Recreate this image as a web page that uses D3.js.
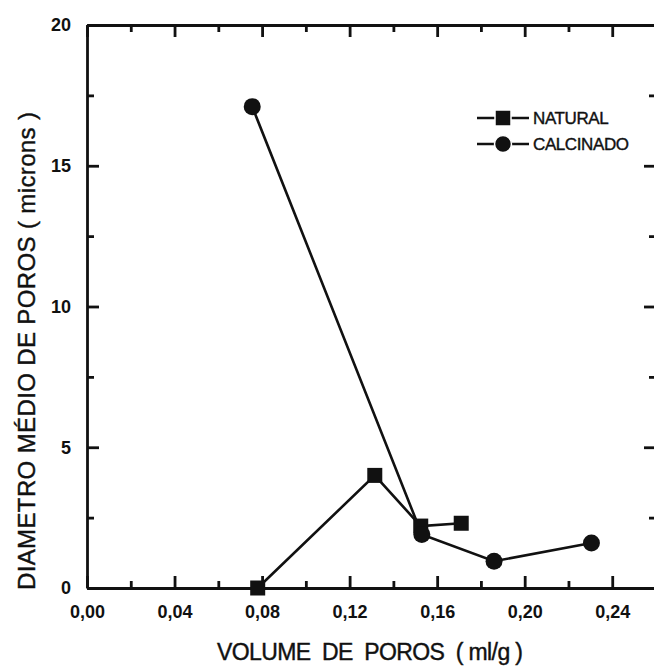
<!DOCTYPE html>
<html>
<head>
<meta charset="utf-8">
<script src="https://cdn.jsdelivr.net/npm/d3@7"></script>
<style>
  body { margin: 0; background: #fff; }
  svg { display: block; font-family: "Liberation Sans", Arial, sans-serif; }
  .c-axis path, .c-axis line { stroke: #111; stroke-width: 2.8; }
  .c-axis text { fill: #111; font-size: 18px; font-weight: bold; }
  .c-line { fill: none; stroke: #111; stroke-width: 2.6; }
  .c-title { fill: #111; stroke: #111; stroke-width: 0.4; }
</style>
</head>
<body>
<div id="chart"></div>
<script>
// data
const naturalX = [0.078, 0.1315, 0.1525, 0.171];
const naturalY = [0, 4.0, 2.2, 2.3];
const calcinadoX = [0.0755, 0.153, 0.186, 0.2305];
const calcinadoY = [17.1, 1.9, 0.95, 1.6];

const xTicks = [0, 0.04, 0.08, 0.12, 0.16, 0.20, 0.24];
const xMinorTicks = [0.02, 0.06, 0.10, 0.14, 0.18, 0.22];
const yTicks = [0, 5, 10, 15, 20];
const yMinorTicks = [2.5, 7.5, 12.5, 17.5];

const seriesNames = ['NATURAL', 'CALCINADO'];

class PoreChart {
  constructor(aims) {
    this.chartContainer = d3.select(aims);
    this.chartWidth = 654;
    this.chartHeight = 667;
    this.left = 87;
    this.right = 656;
    this.top = 25;
    this.bottom = 588;
    this.chart = null;
    this.xScale = null;
    this.yScale = null;
  }

  render() {
    this.createSvg();
    this.initScales();
    this.drawAxes();
    this.drawSeries();
    this.drawLegend();
  }

  createSvg() {
    this.chart = this.chartContainer
      .append('svg')
      .attr('width', this.chartWidth)
      .attr('height', this.chartHeight);
  }

  initScales() {
    this.xScale = d3.scaleLinear().domain([0, 0.26]).range([this.left, this.right]);
    this.yScale = d3.scaleLinear().domain([0, 20]).range([this.bottom, this.top]);
  }

  // one axis with its major ticks, plus a second pass for the short minor ticks
  axisPair(axisFn, scale, pos, transform, labels, fmt, pad) {
    const major = 12, minor = 7;
    const g = this.chart.append('g')
      .attr('class', 'c-axis')
      .attr('transform', transform)
      .call(axisFn(scale).tickValues(pos === 'x' ? xTicks : yTicks)
        .tickFormat(labels ? fmt : '')
        .tickSizeInner(-major).tickSizeOuter(0).tickPadding(pad || 3));
    this.chart.append('g')
      .attr('class', 'c-axis')
      .attr('transform', transform)
      .call(axisFn(scale).tickValues(pos === 'x' ? xMinorTicks : yMinorTicks)
        .tickFormat('').tickSizeInner(-minor).tickSizeOuter(0))
      .select('.domain').remove();
    return g;
  }

  drawAxes() {
    const fmtX = d => d3.format('.2f')(d).replace('.', ',');
    const fmtY = d3.format('d');

    this.axisPair(d3.axisBottom, this.xScale, 'x', 'translate(0,' + this.bottom + ')', true, fmtX, 17);
    this.axisPair(d3.axisTop, this.xScale, 'x', 'translate(0,' + this.top + ')', false);
    this.axisPair(d3.axisLeft, this.yScale, 'y', 'translate(' + this.left + ',0)', true, fmtY, 16);
    this.axisPair(d3.axisRight, this.yScale, 'y', 'translate(' + this.right + ',0)', false);

    // titles
    this.chart.append('text')
      .attr('class', 'c-title')
      .attr('x', 370)
      .attr('y', 660)
      .attr('text-anchor', 'middle')
      .attr('font-size', '23px')
      .attr('textLength', 306)
      .attr('lengthAdjust', 'spacing')
      .attr('xml:space', 'preserve')
      .text('VOLUME  DE  POROS  ( ml/g )');

    this.chart.append('text')
      .attr('class', 'c-title')
      .attr('transform', 'translate(35,351) rotate(-90)')
      .attr('text-anchor', 'middle')
      .attr('font-size', '24px')
      .attr('textLength', 478)
      .attr('lengthAdjust', 'spacing')
      .text('DIAMETRO MÉDIO DE POROS ( microns )');
  }

  drawSeries() {
    const line = d3.line()
      .x(d => this.xScale(d[0]))
      .y(d => this.yScale(d[1]));

    const natural = naturalX.map((x, i) => [x, naturalY[i]]);
    const calcinado = calcinadoX.map((x, i) => [x, calcinadoY[i]]);

    this.chart.append('path').attr('class', 'c-line').attr('d', line(natural));
    this.chart.append('path').attr('class', 'c-line').attr('d', line(calcinado));

    this.chart.append('g')
      .selectAll('rect')
      .data(natural)
      .enter()
      .append('rect')
      .attr('x', d => this.xScale(d[0]) - 7.5)
      .attr('y', d => this.yScale(d[1]) - 7.5)
      .attr('width', 15)
      .attr('height', 15)
      .attr('fill', '#111');

    this.chart.append('g')
      .selectAll('circle')
      .data(calcinado)
      .enter()
      .append('circle')
      .attr('cx', d => this.xScale(d[0]))
      .attr('cy', d => this.yScale(d[1]))
      .attr('r', 8.5)
      .attr('fill', '#111');
  }

  drawLegend() {
    const rows = [118, 144];
    seriesNames.forEach((name, i) => {
      const g = this.chart.append('g').attr('transform', 'translate(0,' + rows[i] + ')');
      g.append('line').attr('x1', 477).attr('x2', 529).attr('y1', 0).attr('y2', 0)
        .attr('stroke', '#111').attr('stroke-width', 2.4);
      if (i === 0) {
        g.append('rect').attr('x', 495).attr('y', -8).attr('width', 16).attr('height', 16)
          .attr('fill', '#111').attr('stroke', '#fff').attr('stroke-width', 1.5);
      } else {
        g.append('circle').attr('cx', 503).attr('cy', 0).attr('r', 8.5)
          .attr('fill', '#111').attr('stroke', '#fff').attr('stroke-width', 1.5);
      }
      g.append('text')
        .attr('class', 'c-title')
        .attr('x', 533)
        .attr('y', 6)
        .attr('font-size', '17px')
        .attr('letter-spacing', '-0.4px')
        .text(name);
    });
  }
}

new PoreChart('#chart').render();
</script>
</body>
</html>
